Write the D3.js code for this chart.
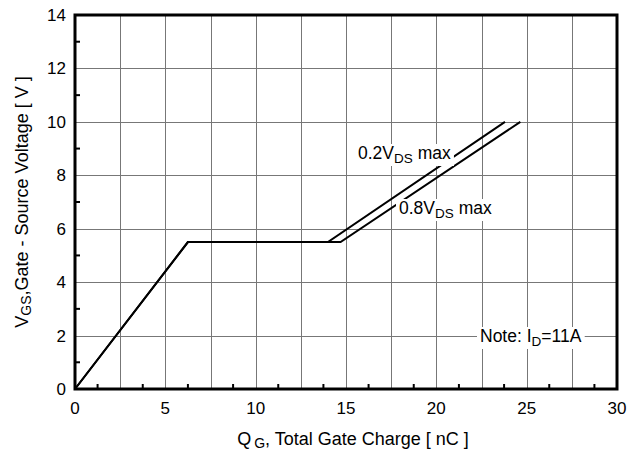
<!DOCTYPE html>
<html>
<head>
<meta charset="utf-8">
<script src="https://cdn.jsdelivr.net/npm/d3@7"></script>
<style>
  body { margin: 0; background: #fff; }
  text { font-family: "Liberation Sans", Arial, sans-serif; fill: #000; }
</style>
</head>
<body>
<script>
// gate charge curves, [Qg nC, Vgs V]
const curve02 = [[0, 0], [6.25, 5.5], [14.0, 5.5], [23.8, 10]];
const curve08 = [[0, 0], [6.25, 5.5], [14.7, 5.5], [24.65, 10]];
const xTicks = [0, 5, 10, 15, 20, 25, 30];
const yTicks = [0, 2, 4, 6, 8, 10, 12, 14];

const width = 639, height = 452;
const margin = { top: 15, right: 22, bottom: 63, left: 75 };

const x = d3.scaleLinear().domain([0, 30]).range([margin.left, width - margin.right]);
const y = d3.scaleLinear().domain([0, 14]).range([height - margin.bottom, margin.top]);

const svg = d3.select("body").append("svg")
  .attr("width", width)
  .attr("height", height);

// grid
const grid = svg.append("g").attr("stroke", "#777").attr("stroke-width", 1);
grid.selectAll(".vx").data(d3.range(2.5, 30, 2.5)).join("line")
  .attr("x1", d => Math.round(x(d)) + 0.5).attr("x2", d => Math.round(x(d)) + 0.5)
  .attr("y1", y(14)).attr("y2", y(0));
grid.selectAll(".hy").data(d3.range(2, 14, 2)).join("line")
  .attr("y1", d => Math.round(y(d)) + 0.5).attr("y2", d => Math.round(y(d)) + 0.5)
  .attr("x1", x(0)).attr("x2", x(30));

// minor ticks, inward
const ticks = svg.append("g").attr("stroke", "#000").attr("stroke-width", 2);
ticks.selectAll(".tx").data(d3.range(1.25, 30, 2.5)).join("line")
  .attr("x1", d => x(d)).attr("x2", d => x(d))
  .attr("y1", y(0)).attr("y2", y(0) - 5);
ticks.selectAll(".ty").data(d3.range(1, 14, 2)).join("line")
  .attr("y1", d => y(d)).attr("y2", d => y(d))
  .attr("x1", x(0)).attr("x2", x(0) + 5);

const line = d3.line().x(d => x(d[0])).y(d => y(d[1]));

svg.append("path").datum(curve02)
  .attr("d", line).attr("fill", "none").attr("stroke", "#000").attr("stroke-width", 2);
svg.append("path").datum(curve08)
  .attr("d", line).attr("fill", "none").attr("stroke", "#000").attr("stroke-width", 2);

// labels with white backing
function label(px, py, parts) {
  const t = svg.append("text").attr("x", px).attr("y", py).attr("font-size", 17.5);
  parts.forEach(p => {
    const s = t.append("tspan").text(p.t);
    if (p.sub) s.attr("font-size", 13.5).attr("dy", 4);
    if (p.up) s.attr("dy", -4);
  });
  const b = t.node().getBBox();
  svg.insert("rect", () => t.node())
    .attr("x", b.x - 3).attr("y", b.y + 1)
    .attr("width", b.width + 6).attr("height", b.height - 1)
    .attr("fill", "#fff");
}
label(358, 159, [{ t: "0.2V" }, { t: "DS", sub: true }, { t: " max", up: true }]);
label(399, 214, [{ t: "0.8V" }, { t: "DS", sub: true }, { t: " max", up: true }]);
label(480, 342, [{ t: "Note: I" }, { t: "D", sub: true }, { t: "=11A", up: true }]);

// frame
svg.append("rect")
  .attr("x", x(0)).attr("y", y(14))
  .attr("width", x(30) - x(0)).attr("height", y(0) - y(14))
  .attr("fill", "none").attr("stroke", "#000").attr("stroke-width", 3);

// tick labels
svg.append("g").selectAll("text").data(xTicks).join("text")
  .attr("x", d => x(d)).attr("y", y(0) + 25)
  .attr("text-anchor", "middle").attr("font-size", 17)
  .text(d => d);
svg.append("g").selectAll("text").data(yTicks).join("text")
  .attr("x", x(0) - 9).attr("y", d => y(d) + 6)
  .attr("text-anchor", "end").attr("font-size", 17)
  .text(d => d);

// axis titles
const xt = svg.append("text")
  .attr("x", (x(0) + x(30)) / 2 + 7).attr("y", 445)
  .attr("text-anchor", "middle").attr("font-size", 18);
xt.append("tspan").text("Q");
xt.append("tspan").text("G").attr("font-size", 14).attr("dy", 3).attr("dx", 3);
xt.append("tspan").text(", Total Gate Charge [ nC ]").attr("dy", -3);

const yt = svg.append("text")
  .attr("transform", `translate(28,${(y(0) + y(14)) / 2}) rotate(-90)`)
  .attr("text-anchor", "middle").attr("font-size", 18);
yt.append("tspan").text("V");
yt.append("tspan").text("GS").attr("font-size", 14).attr("dy", 3);
yt.append("tspan").text(",Gate - Source Voltage [ V ]").attr("dy", -3);
</script>
</body>
</html>
